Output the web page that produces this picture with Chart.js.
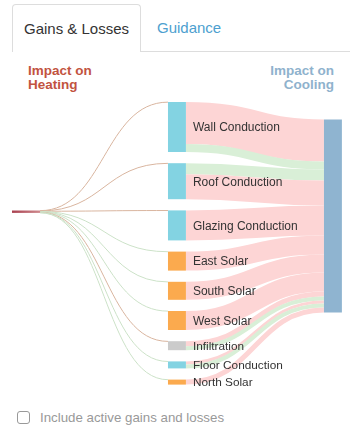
<!DOCTYPE html>
<html>
<head>
<meta charset="utf-8">
<script src="https://cdn.jsdelivr.net/npm/chart.js@4.4.0/dist/chart.umd.min.js"></script>
<style>
  body { margin: 0; width: 350px; height: 445px; background: #fff; position: relative; overflow: hidden;
         font-family: 'Liberation Sans', Arial, sans-serif; }
  .tab-active { position: absolute; left: 12px; top: 4px; width: 129px; height: 48px; box-sizing: border-box;
                border: 1px solid #ddd; border-bottom: none; border-radius: 4px 4px 0 0; background: #fff;
                font-size: 15px; color: #333; line-height: 48px; text-align: center; }
  .tab { position: absolute; left: 157px; top: 4px; height: 48px; line-height: 48px; font-size: 15px; color: #4d9fcf; }
  .tab-line { position: absolute; left: 141px; right: 0; top: 51px; border-top: 1px solid #ddd; }
  .title { position: absolute; top: 64px; font-size: 13.5px; font-weight: bold; line-height: 14px; }
  .heat { left: 28px; color: #c2533f; }
  .cool { right: 16px; text-align: right; color: #8fb2cd; }
  #wrap { position: absolute; left: 0; top: 95px; width: 350px; height: 300px; }
  .check { position: absolute; left: 17px; top: 411px; width: 13px; height: 13px; box-sizing: border-box;
           border: 1.5px solid #999; border-radius: 3px; }
  .check-label { position: absolute; left: 40px; top: 410px; font-size: 13.3px; color: #999; line-height: 16px; }
</style>
</head>
<body>
<div class="tab-active">Gains &amp; Losses</div>
<div class="tab">Guidance</div>
<div class="tab-line"></div>
<div class="title heat">Impact on<br>Heating</div>
<div class="title cool">Impact on<br>Cooling</div>
<div id="wrap"><canvas id="chart" width="350" height="300"></canvas></div>
<div class="check"></div>
<div class="check-label">Include active gains and losses</div>

<script>
// Middle column nodes
const nodeLabels = ['Wall Conduction', 'Roof Conduction', 'Glazing Conduction', 'East Solar', 'South Solar',
                    'West Solar', 'Infiltration', 'Floor Conduction', 'North Solar'];
const nodeColors = ['#83d3e2', '#83d3e2', '#83d3e2', '#fbaa4e', '#fbaa4e', '#fbaa4e', '#cbcbcb', '#83d3e2', '#fbaa4e'];

// Heating links (left node -> each middle node), tiny values, sign sets colour
const heatingValues = [0.3, 0.3, 0.25, -0.25, -0.25, -0.25, 0.4, -0.2, -0.2];

// Cooling links (middle node -> cooling node), in stacking order
const coolingFrom = [0, 0, 1, 1, 2, 3, 4, 5, 6, 6, 7, 7, 8];
const coolingValues = [42, -8, -11, 25, 30, 19, 18, 19, 5, -4, 3, -4, 5];

// layout settings (value units)
const nodeGap = 11.2;
const coolingTop = 17.5;
const heatingTop = 108.5;
const nodeW = 0.115;
const leftW = 0.18;

const sankeyPlugin = {
    id: 'sankey',
    afterDraw(chart) {
        const ctx = chart.ctx;
        const xs = chart.scales.x, ys = chart.scales.y;
        const px = v => xs.getPixelForValue(v);
        const py = v => ys.getPixelForValue(v);

        // node sizes from cooling links
        const sizes = nodeLabels.map((l, i) =>
            coolingFrom.reduce((s, f, k) => f === i ? s + Math.abs(coolingValues[k]) : s, 0));
        const tops = [];
        let y = 0;
        sizes.forEach((s, i) => { tops.push(y); y += s + nodeGap; });
        const coolingSize = coolingValues.reduce((s, v) => s + Math.abs(v), 0);
        const heatingSize = heatingValues.reduce((s, v) => s + Math.abs(v), 0);

        function link(x0, y0, x1, y1, w, color) {
            const xm = (x0 + x1) / 2;
            ctx.beginPath();
            ctx.moveTo(x0, y0);
            ctx.bezierCurveTo(xm, y0, xm, y1, x1, y1);
            ctx.strokeStyle = color;
            ctx.lineWidth = w;
            ctx.lineCap = 'butt';
            ctx.stroke();
        }

        ctx.save();
        // cooling links
        const offs = sizes.map(() => 0);
        let inOff = 0;
        coolingValues.forEach((v, k) => {
            const i = coolingFrom[k], a = Math.abs(v);
            const y0 = tops[i] + offs[i] + a / 2;
            const y1 = coolingTop + inOff + a / 2;
            offs[i] += a; inOff += a;
            link(px(1 + nodeW), py(y0), px(2), py(y1), py(a) - py(0),
                 v > 0 ? '#fdd5d5' : '#d9efd7');
        });

        // heating links
        let hOff = 0;
        heatingValues.forEach((v, i) => {
            const a = Math.abs(v);
            const y0 = heatingTop + hOff + a / 2;
            hOff += a;
            link(px(leftW), py(y0), px(1), py(tops[i] + a / 2), Math.max(1, py(a) - py(0)),
                 v > 0 ? '#d9b59f' : '#cce2c8');
        });

        // nodes
        sizes.forEach((s, i) => {
            ctx.fillStyle = nodeColors[i];
            ctx.fillRect(px(1), py(tops[i]), px(1 + nodeW) - px(1), py(tops[i] + s) - py(tops[i]));
        });
        ctx.fillStyle = '#8fb4d0';
        ctx.fillRect(px(2), py(coolingTop), px(2 + nodeW) - px(2), py(coolingTop + coolingSize) - py(coolingTop));
        const g = ctx.createLinearGradient(px(0), 0, px(leftW), 0);
        g.addColorStop(0, '#a9404f');
        g.addColorStop(1, '#cf8a8e');
        ctx.fillStyle = g;
        ctx.fillRect(px(0), py(heatingTop), px(leftW) - px(0), Math.max(2, py(heatingTop + heatingSize) - py(heatingTop)));

        // labels
        ctx.fillStyle = '#333';
        ctx.textBaseline = 'middle';
        ctx.textAlign = 'left';
        nodeLabels.forEach((l, i) => {
            ctx.font = (sizes[i] < 12 ? '11.8px' : '12px') + " 'Liberation Sans', Arial, sans-serif";
            ctx.fillText(l, px(1 + nodeW) + 7, py(tops[i] + sizes[i] / 2) + 1);
        });
        ctx.restore();
    }
};

new Chart(document.getElementById('chart'), {
    type: 'scatter',
    data: { datasets: [{ data: [] }] },
    options: {
        responsive: false,
        animation: false,
        layout: { padding: 0 },
        plugins: { legend: { display: false }, tooltip: { enabled: false } },
        scales: {
            x: { type: 'linear', display: false, min: -0.077, max: 2.167 },
            y: { type: 'linear', display: false, reverse: true, min: -7, max: 293 }
        }
    },
    plugins: [sankeyPlugin]
});
</script>
</body>
</html>
